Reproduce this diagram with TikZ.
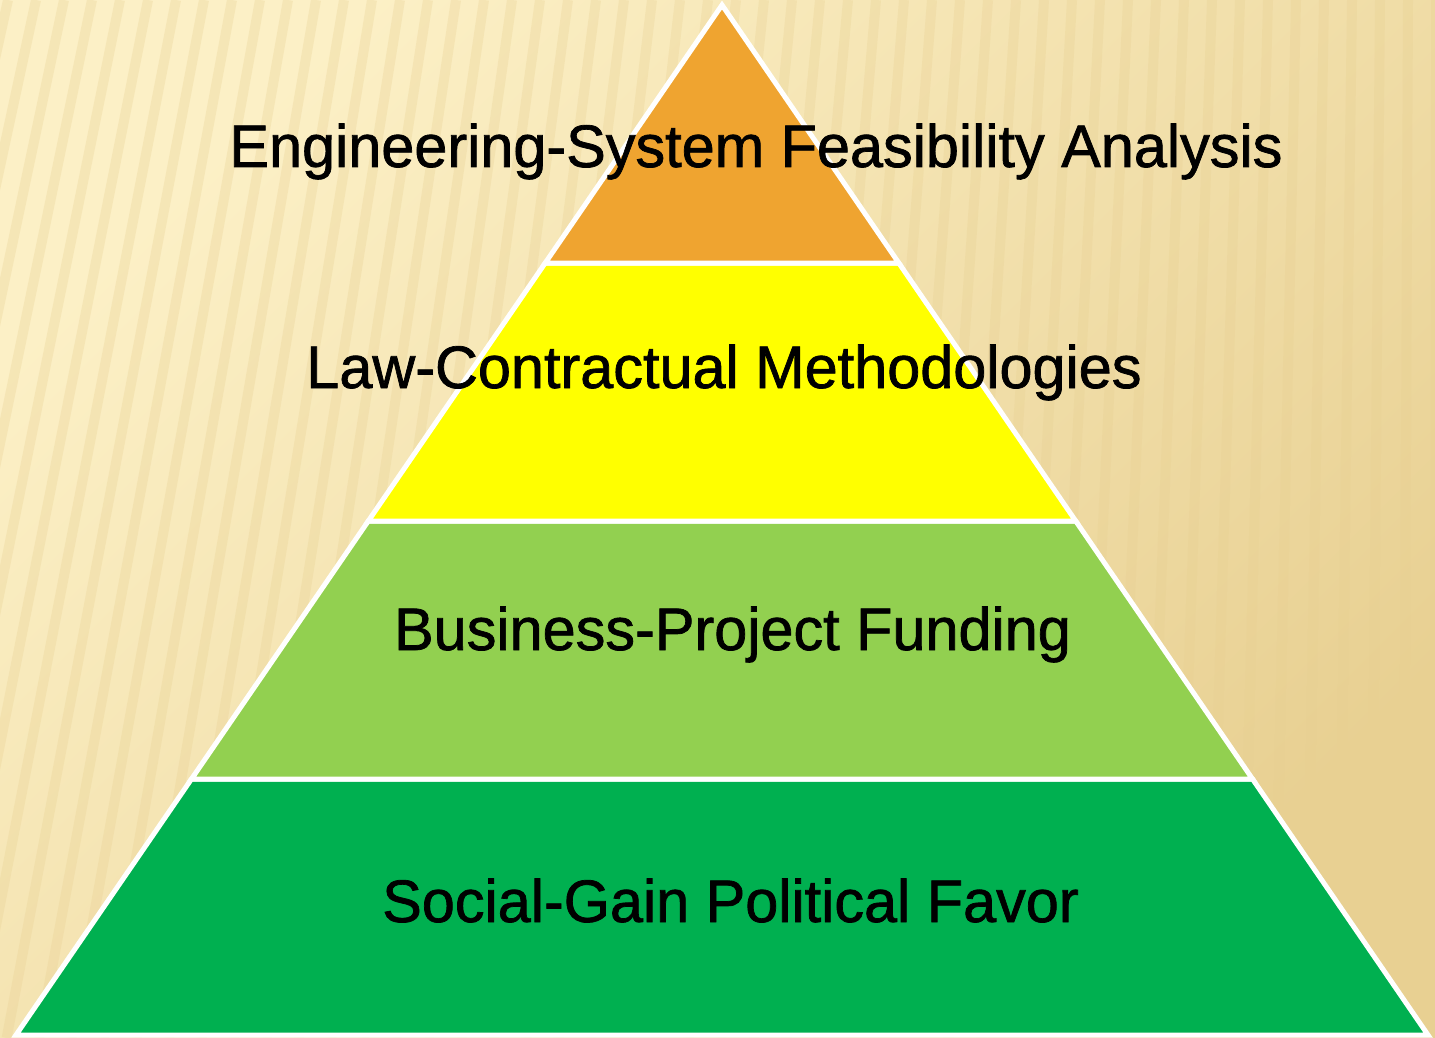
\documentclass[tikz,border=0pt]{standalone}
\usepackage{fontspec}
\setmainfont[FakeBold=1.2,FakeStretch=0.99]{Liberation Sans}

\definecolor{cream}{RGB}{252,240,198}
\definecolor{tan}{RGB}{232,208,146}
\definecolor{tierorange}{RGB}{239,164,48}
\definecolor{tieryellow}{RGB}{255,255,0}
\definecolor{tierlime}{RGB}{146,208,80}
\definecolor{tiergreen}{RGB}{0,176,80}

\begin{document}
\begin{tikzpicture}[x=0.5pt,y=-0.5pt,
    tier/.style={draw=white, line width=2.5pt, line join=miter},
    tierlabel/.style={font=\fontsize{30}{36}\selectfont, text=black, inner sep=0pt, anchor=base}]
    \useasboundingbox (0,0) rectangle (1435,1038);

    % background
    \shade[top color=cream, bottom color=tan, shading angle=45] (0,0) rectangle (1435,1038);
    \begin{scope}
        \clip (0,0) rectangle (1435,1038);
        \foreach \i in {-300,-272,...,1475}
            \draw[tan, opacity=0.3, line width=5pt] (\i,0) -- ({\i-230+0.16*\i},1038);
    \end{scope}

    % pyramid
    \draw[tier, fill=tiergreen] (191.5,779) -- (1252.5,779) -- (1428,1035) -- (16,1035) -- cycle;
    \draw[tier, fill=tierlime] (368.3,521) -- (1075.7,521) -- (1252.5,779) -- (191.5,779) -- cycle;
    \draw[tier, fill=tieryellow] (545.2,263) -- (898.8,263) -- (1075.7,521) -- (368.3,521) -- cycle;
    \draw[tier, fill=tierorange] (722,5) -- (898.8,263) -- (545.2,263) -- cycle;

    \node[tierlabel] (engineering) at (756,167) {Engineering-System Feasibility Analysis};
    \node[tierlabel] (law) at (724,388) {Law-Contractual Methodologies};
    \node[tierlabel] (business) at (732.5,650) {Business-Project Funding};
    \node[tierlabel] (social) at (730.5,922) {Social-Gain Political Favor};
\end{tikzpicture}
\end{document}
